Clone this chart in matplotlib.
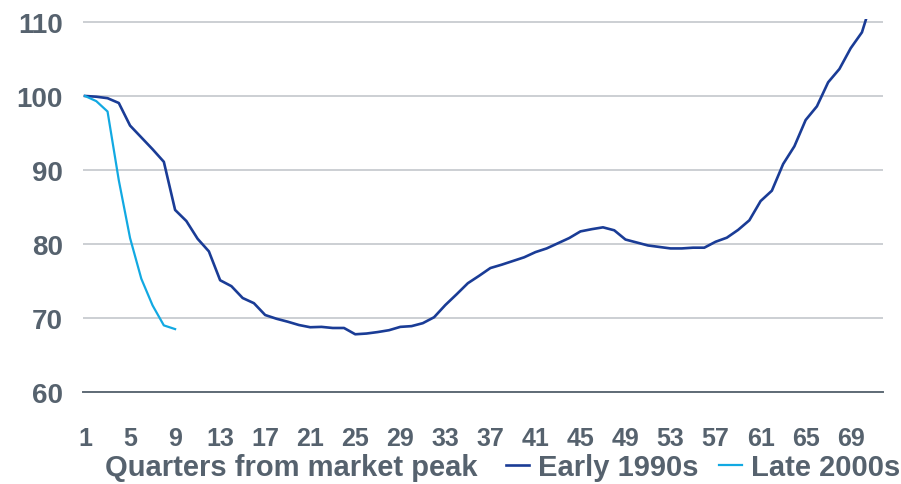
import matplotlib
matplotlib.use("Agg")
import matplotlib.pyplot as plt
from matplotlib.lines import Line2D

# Index level (peak = 100) by quarter from market peak
early_1990s = [
    100.0, 99.9, 99.7, 99.05, 96.0, 94.4, 92.8, 91.1, 84.6, 83.1,
    80.7, 79.0, 75.1, 74.3, 72.7, 72.0, 70.4, 69.9, 69.5, 69.05,
    68.75, 68.8, 68.65, 68.65, 67.8, 67.9, 68.1, 68.35, 68.8, 68.9,
    69.3, 70.1, 71.75, 73.2, 74.7, 75.7, 76.75, 77.2, 77.7, 78.2,
    78.9, 79.4, 80.1, 80.8, 81.7, 82.0, 82.25, 81.85, 80.6, 80.2,
    79.8, 79.6, 79.4, 79.4, 79.5, 79.5, 80.3, 80.85, 81.9, 83.2,
    85.8, 87.2, 90.8, 93.2, 96.75, 98.6, 101.85, 103.65, 106.45, 108.6,
    113.5,
]
late_2000s = [100.0, 99.3, 97.9, 88.6, 80.8, 75.3, 71.7, 69.0, 68.5]

quarters_early = list(range(1, len(early_1990s) + 1))
quarters_late = list(range(1, len(late_2000s) + 1))
x_ticks = list(range(1, 70, 4))
y_ticks = [60, 70, 80, 90, 100, 110]

dark_blue = "#1a3c96"
light_blue = "#12a9e2"
text_col = "#56626e"
grid_col = "#c3c7cc"

plt.rcParams["font.family"] = ["Liberation Sans", "DejaVu Sans"]

fig = plt.figure(figsize=(9.01, 4.85), dpi=100)
ax = fig.add_axes([83 / 901, 1 - 393 / 485, 800 / 901, 373 / 485])

ax.plot(quarters_early, early_1990s, color=dark_blue, lw=1.9, solid_joinstyle="round")
ax.plot(quarters_late, late_2000s, color=light_blue, lw=1.6, solid_joinstyle="round")

ax.set_xlim(0.82, 71.87)
ax.set_ylim(60, 110.4)
ax.set_xticks(x_ticks)
ax.set_yticks(y_ticks)
ax.tick_params(axis="both", length=0, colors=text_col)
ax.tick_params(axis="x", labelsize=18, pad=24.5)
ax.tick_params(axis="y", labelsize=20, pad=14.4)
for lab in ax.get_xticklabels() + ax.get_yticklabels():
    lab.set_fontweight("bold")

ax.grid(axis="y", color=grid_col, lw=1.2)
ax.set_axisbelow(True)
for side in ("top", "right", "left"):
    ax.spines[side].set_visible(False)
ax.spines["bottom"].set_color("#5f6b76")
ax.spines["bottom"].set_linewidth(1.4)

fig.text(105 / 901, 1 - 468 / 485, "Quarters from market peak", color=text_col,
         fontsize=21, fontweight="bold", va="center", ha="left")

handles = [Line2D([], [], color=dark_blue, lw=1.9),
           Line2D([], [], color=light_blue, lw=1.6)]
fig.legend(handles, ["Early 1990s", "Late 2000s"], loc="center right",
           bbox_to_anchor=(900 / 901, 1 - 468 / 485), ncol=2, frameon=False,
           handlelength=0.8, handletextpad=0.3, columnspacing=0.7,
           borderaxespad=0, borderpad=0,
           prop={"size": 21, "weight": "bold"}, labelcolor=text_col)

fig.savefig("out.png", dpi=100)
